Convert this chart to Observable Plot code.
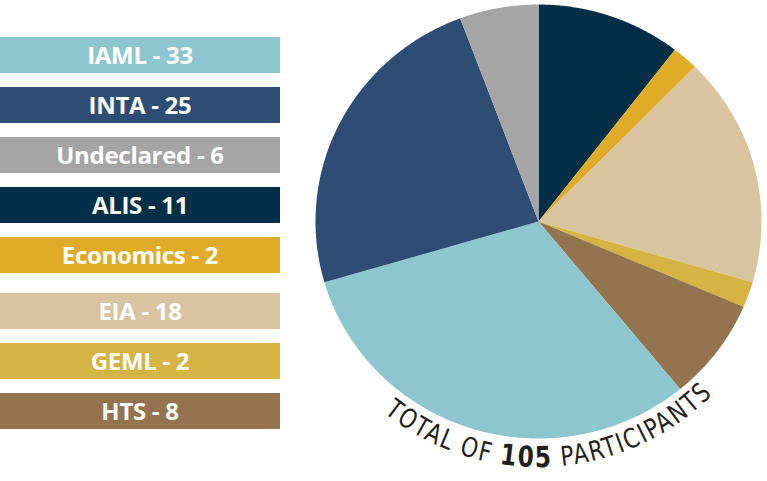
<!DOCTYPE html>
<html>
<head>
<meta charset="utf-8">
<script src="https://cdn.jsdelivr.net/npm/d3@7"></script>
<script src="https://cdn.jsdelivr.net/npm/@observablehq/plot@0.6"></script>
<style>
  html, body { margin: 0; padding: 0; background: #fff; }
  #wrap { position: relative; width: 767px; height: 481px; overflow: hidden; }
  #wrap svg { position: absolute; left: 0; top: 0; }
  .legend { position: absolute; left: 0; top: 37px; width: 280px; }
  .item { height: 36px; line-height: 36px; text-align: center; color: #fff;
          font-family: "Open Sans", sans-serif; font-weight: 700; font-size: 24px;
          margin-bottom: 14px; letter-spacing: -0.3px; }
  .item.gap { margin-top: 20px; }
</style>
</head>
<body>
<div id="wrap"></div>
<script>
// Data (in legend order)
const categories = ["IAML", "INTA", "Undeclared", "ALIS", "Economics", "EIA", "GEML", "HTS"];
const counts     = [33, 25, 6, 11, 2, 18, 2, 8];
const colors     = ["#8EC6D0", "#2D4D75", "#A5A5A5", "#022F47", "#E0AC28", "#D9C4A0", "#D5B444", "#93744E"];
// Pie order, clockwise from 12 o'clock
const pieOrder   = ["ALIS", "Economics", "EIA", "GEML", "HTS", "IAML", "INTA", "Undeclared"];
const totalLabel = ["TOTAL OF ", "105", " PARTICIPANTS"];

const countOf = new Map(categories.map((c, i) => [c, counts[i]]));
const total = d3.sum(counts);

// build slice polygons in unit space
const pts = [];
let a0 = 0;
for (const c of pieOrder) {
  const a1 = a0 + countOf.get(c) / total * 2 * Math.PI;
  pts.push({cat: c, x: 0, y: 0});
  const n = Math.max(2, Math.ceil((a1 - a0) / (Math.PI / 360)));
  for (let k = 0; k <= n; k++) {
    const a = a0 + (a1 - a0) * k / n;
    pts.push({cat: c, x: Math.sin(a), y: Math.cos(a)});
  }
  pts.push({cat: c, x: 0, y: 0});
  a0 = a1;
}

const plot = Plot.plot({
  width: 767,
  height: 481,
  margin: 0,
  x: {domain: [-1, 1], range: [315, 761], axis: null},
  y: {domain: [-1, 1], range: [438, 4], axis: null},
  color: {domain: categories, range: colors},
  marks: [
    Plot.line(pts, {x: "x", y: "y", z: "cat", fill: "cat", stroke: "none", curve: "linear"})
  ]
});

// curved caption along an arc outside the pie
const sx = plot.scale("x"), sy = plot.scale("y");
const cx = sx.apply(0), cy = sy.apply(0);
const R = (sy.apply(-1) - cy) + 29;
const span = 62 * Math.PI / 180;
const svg = d3.select(plot);
const p0 = [cx - R * Math.sin(span), cy + R * Math.cos(span)];
const p1 = [cx + R * Math.sin(span), cy + R * Math.cos(span)];
svg.append("defs").append("path")
  .attr("id", "capArc")
  .attr("d", `M${p0[0]},${p0[1]} A${R},${R} 0 0 0 ${p1[0]},${p1[1]}`);
const tp = svg.append("text")
  .attr("font-family", "'Liberation Sans Narrow', 'DejaVu Sans Condensed', 'Open Sans', sans-serif")
  .attr("font-stretch", "condensed")
  .attr("font-size", 27)
  .attr("letter-spacing", 2)
  .attr("fill", "#231F20")
  .append("textPath")
  .attr("href", "#capArc")
  .attr("startOffset", "52.7%")
  .attr("text-anchor", "middle")
  .attr("textLength", 362)
  .attr("lengthAdjust", "spacingAndGlyphs");
tp.append("tspan").text(totalLabel[0]);
tp.append("tspan").attr("font-weight", 700).attr("font-size", 29).text(totalLabel[1]);
tp.append("tspan").text(totalLabel[2]);

const wrap = document.getElementById("wrap");
wrap.appendChild(plot);

// legend bars
const legend = document.createElement("div");
legend.className = "legend";
categories.forEach((c, i) => {
  const d = document.createElement("div");
  d.className = "item" + (c === "EIA" ? " gap" : "");
  d.style.background = colors[i];
  d.textContent = `${c} - ${counts[i]}`;
  legend.appendChild(d);
});
wrap.appendChild(legend);
</script>
</body>
</html>
